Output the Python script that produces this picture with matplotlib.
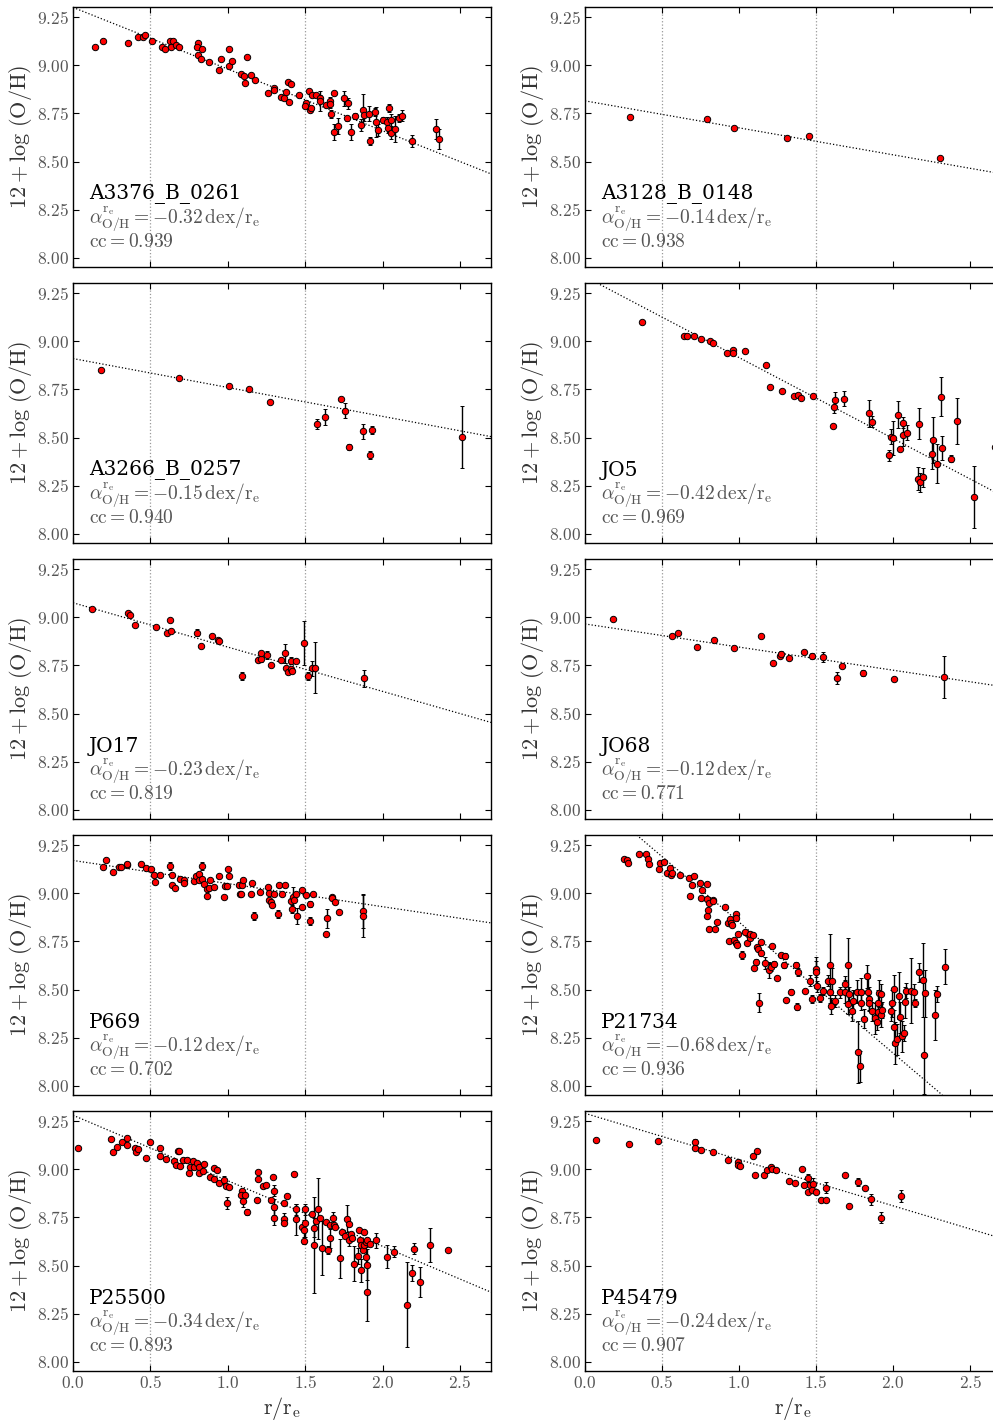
import matplotlib
matplotlib.use('Agg')
import matplotlib.pyplot as plt
from matplotlib.ticker import FormatStrFormatter, MultipleLocator

plt.rcParams['mathtext.fontset'] = 'cm'
plt.rcParams['font.family'] = ['DejaVu Serif']

# ============================ data ============================
names = ['A3376_B_0261', 'A3128_B_0148', 'A3266_B_0257', 'JO5', 'JO17',
         'JO68', 'P669', 'P21734', 'P25500', 'P45479']
slopes = [-0.32, -0.14, -0.15, -0.42, -0.23, -0.12, -0.12, -0.68, -0.34, -0.24]
zeros = [9.30, 8.815, 8.91, 9.335, 9.075, 8.965, 9.17, 9.53, 9.28, 9.29]
ccs = ['0.939', '0.938', '0.940', '0.969', '0.819', '0.771', '0.702', '0.936', '0.893', '0.907']

r_a3376 = [0.145, 0.194, 0.358, 0.419, 0.451, 0.466, 0.513, 0.572, 0.593, 0.624, 0.643, 0.636,
           0.665, 0.686, 0.807, 0.798, 0.831, 0.805, 0.828, 0.880, 0.958, 0.945, 1.010, 1.005,
           1.027, 1.122, 1.085, 1.107, 1.109, 1.148, 1.176, 1.258, 1.297, 1.299, 1.342, 1.362,
           1.374, 1.387, 1.407, 1.398, 1.461, 1.504, 1.497, 1.527, 1.532, 1.536, 1.545, 1.571,
           1.594, 1.597, 1.633, 1.659, 1.663, 1.666, 1.685, 1.685, 1.711, 1.750, 1.769, 1.778,
           1.795, 1.819, 1.860, 1.872, 1.879, 1.909, 1.920, 1.948, 1.957, 1.970, 2.002, 2.030,
           2.034, 2.039, 2.052, 2.056, 2.080, 2.108, 2.123, 2.190, 2.345, 2.362]
oh_a3376 = [9.093, 9.124, 9.115, 9.144, 9.144, 9.155, 9.124, 9.094, 9.084, 9.124, 9.124, 9.094,
            9.103, 9.094, 9.115, 9.094, 9.084, 9.053, 9.034, 9.015, 9.034, 8.973, 9.084, 8.996,
            9.023, 9.044, 8.954, 8.944, 8.907, 8.949, 8.925, 8.854, 8.883, 8.873, 8.833, 8.828,
            8.862, 8.914, 8.904, 8.809, 8.843, 8.804, 8.786, 8.864, 8.767, 8.776, 8.843, 8.843,
            8.828, 8.814, 8.793, 8.814, 8.797, 8.748, 8.857, 8.653, 8.684, 8.828, 8.724, 8.802,
            8.653, 8.738, 8.689, 8.769, 8.740, 8.748, 8.606, 8.757, 8.705, 8.663, 8.714, 8.703,
            8.676, 8.779, 8.648, 8.717, 8.669, 8.727, 8.738, 8.606, 8.669, 8.617]
e_a3376 = [0.005] * 41 + [0.01, 0.01, 0.01, 0.01, 0.01, 0.01, 0.01, 0.02, 0.05, 0.01, 0.02,
                         0.02, 0.02, 0.01, 0.04, 0.04, 0.04, 0.015, 0.03, 0.04, 0.015, 0.03,
                         0.08, 0.03, 0.04, 0.02, 0.02, 0.08, 0.03, 0.015, 0.03, 0.03, 0.02,
                         0.03, 0.03, 0.07, 0.02, 0.03, 0.03, 0.05, 0.05]

r_a3128 = [0.292, 0.789, 0.968, 1.314, 1.456, 2.301]
oh_a3128 = [8.731, 8.722, 8.674, 8.624, 8.631, 8.520]
e_a3128 = [0.005, 0.005, 0.005, 0.005, 0.005, 0.005]

r_a3266 = [0.183, 0.682, 1.005, 1.137, 1.273, 1.575, 1.629, 1.728, 1.759, 1.782, 1.873,
           1.918, 1.929, 2.513]
oh_a3266 = [8.849, 8.810, 8.770, 8.751, 8.687, 8.569, 8.607, 8.701, 8.640, 8.450, 8.533,
            8.408, 8.540, 8.503]
e_a3266 = [0.005, 0.005, 0.005, 0.005, 0.005, 0.025, 0.04, 0.005, 0.04, 0.015, 0.04,
           0.02, 0.02, 0.16]

r_jo5 = [0.369, 0.644, 0.663, 0.709, 0.754, 0.812, 0.828, 0.923, 0.959, 0.959, 1.037, 1.178,
         1.201, 1.279, 1.357, 1.385, 1.404, 1.478, 1.612, 1.618, 1.623, 1.683, 1.843, 1.860,
         1.973, 1.986, 1.999, 2.031, 2.046, 2.064, 2.066, 2.089, 2.163, 2.171, 2.176, 2.193,
         2.249, 2.258, 2.286, 2.308, 2.316, 2.373, 2.416, 2.524, 2.66]
oh_jo5 = [9.100, 9.026, 9.029, 9.029, 9.010, 9.000, 8.990, 8.939, 8.952, 8.938, 8.950, 8.879,
          8.763, 8.744, 8.715, 8.720, 8.706, 8.716, 8.559, 8.659, 8.697, 8.702, 8.625, 8.583,
          8.408, 8.505, 8.498, 8.618, 8.443, 8.578, 8.514, 8.526, 8.286, 8.571, 8.267, 8.293,
          8.417, 8.488, 8.365, 8.712, 8.446, 8.391, 8.587, 8.190, 8.451]
e_jo5 = [0.005] * 18 + [0.01, 0.03, 0.04, 0.04, 0.07, 0.03, 0.03, 0.04, 0.09, 0.07, 0.005,
                        0.03, 0.06, 0.04, 0.06, 0.08, 0.05, 0.05, 0.08, 0.12, 0.1, 0.1,
                        0.06, 0.02, 0.12, 0.16, 0.02]

r_jo17 = [0.125, 0.356, 0.371, 0.403, 0.539, 0.608, 0.624, 0.636, 0.800, 0.824, 0.900, 0.936,
          0.941, 1.092, 1.195, 1.213, 1.217, 1.256, 1.279, 1.342, 1.372, 1.379, 1.389, 1.405,
          1.407, 1.417, 1.439, 1.493, 1.517, 1.545, 1.562, 1.877]
oh_jo17 = [9.040, 9.021, 9.010, 8.958, 8.948, 8.920, 8.986, 8.929, 8.920, 8.849, 8.900, 8.881,
           8.879, 8.694, 8.777, 8.784, 8.815, 8.804, 8.753, 8.779, 8.813, 8.739, 8.717, 8.732,
           8.775, 8.719, 8.772, 8.865, 8.694, 8.734, 8.739, 8.682]
e_jo17 = [0.005] * 8 + [0.02, 0.005, 0.005, 0.01, 0.005, 0.02, 0.01, 0.015, 0.005, 0.02,
                        0.005, 0.005, 0.05, 0.01, 0.005, 0.01, 0.02, 0.01, 0.005, 0.115,
                        0.02, 0.04, 0.13, 0.045]

r_jo68 = [0.182, 0.566, 0.605, 0.730, 0.836, 0.966, 1.143, 1.221, 1.264, 1.273, 1.325, 1.420,
          1.474, 1.547, 1.636, 1.666, 1.804, 2.005, 2.329]
oh_jo68 = [8.990, 8.900, 8.920, 8.848, 8.882, 8.839, 8.900, 8.760, 8.799, 8.810, 8.787, 8.818,
           8.799, 8.792, 8.685, 8.746, 8.709, 8.678, 8.689]
e_jo68 = [0.005, 0.005, 0.005, 0.005, 0.005, 0.005, 0.005, 0.005, 0.01, 0.015, 0.005, 0.005,
          0.015, 0.025, 0.03, 0.005, 0.015, 0.01, 0.11]

r_p669 = [0.192, 0.211, 0.261, 0.298, 0.313, 0.352, 0.352, 0.442, 0.473, 0.501, 0.522, 0.529,
          0.559, 0.624, 0.641, 0.641, 0.660, 0.690, 0.714, 0.714, 0.783, 0.794, 0.816, 0.811,
          0.833, 0.831, 0.846, 0.868, 0.868, 0.880, 0.885, 0.910, 0.943, 0.973, 0.984, 0.992,
          0.999, 1.007, 1.072, 1.081, 1.087, 1.094, 1.100, 1.157, 1.152, 1.171, 1.210, 1.260,
          1.264, 1.264, 1.279, 1.285, 1.299, 1.327, 1.331, 1.348, 1.372, 1.407, 1.417, 1.422,
          1.428, 1.439, 1.450, 1.476, 1.482, 1.508, 1.530, 1.532, 1.549, 1.633, 1.640, 1.670,
          1.672, 1.691, 1.720, 1.871, 1.871]
oh_p669 = [9.135, 9.170, 9.111, 9.135, 9.138, 9.144, 9.152, 9.154, 9.131, 9.125, 9.092, 9.059,
           9.095, 9.142, 9.097, 9.045, 9.028, 9.074, 9.071, 9.054, 9.062, 9.088, 9.100, 9.071,
           9.140, 9.076, 9.048, 9.022, 8.984, 9.028, 9.066, 9.031, 9.088, 8.978, 9.036, 9.035,
           9.125, 9.090, 9.045, 8.997, 8.997, 9.040, 9.067, 9.052, 8.998, 8.881, 9.005, 9.033,
           9.002, 8.967, 8.952, 8.941, 8.995, 8.893, 9.040, 8.998, 9.040, 8.957, 8.919, 8.981,
           8.965, 8.997, 8.881, 8.929, 9.016, 8.990, 8.945, 8.856, 8.998, 8.787, 8.870, 8.981,
           8.976, 8.953, 8.905, 8.907, 8.882]
e_p669 = [0.008] * 76 + [0.11]
e_p669[13] = 0.02
e_p669[24] = 0.02
e_p669[38] = 0.015
e_p669[45] = 0.02
e_p669[53] = 0.02
e_p669[58] = 0.02
e_p669[59] = 0.05
e_p669[62] = 0.04
e_p669[66] = 0.015
e_p669[67] = 0.02
e_p669[70] = 0.05
e_p669[75] = 0.09

r_p21734 = [0.253, 0.270, 0.279, 0.348, 0.393, 0.406, 0.415, 0.480, 0.490, 0.514, 0.534, 0.553,
            0.560, 0.564, 0.618, 0.676, 0.707, 0.683, 0.694, 0.745, 0.750, 0.758, 0.791, 0.793,
            0.806, 0.830, 0.828, 0.793, 0.799, 0.802, 0.843, 0.858, 0.908, 0.927, 0.940, 0.949,
            0.955, 0.979, 0.983, 0.936, 0.968, 0.983, 0.988, 0.996, 1.022, 1.052, 1.056, 1.041,
            1.074, 1.070, 1.089, 1.096, 1.111, 1.117, 1.121, 1.128, 1.143, 1.143, 1.166, 1.195,
            1.210, 1.225, 1.247, 1.212, 1.271, 1.299, 1.292, 1.303, 1.340, 1.370, 1.381, 1.376,
            1.430, 1.460, 1.474, 1.497, 1.502, 1.504, 1.528, 1.543, 1.577, 1.588, 1.588, 1.597,
            1.603, 1.625, 1.654, 1.686, 1.689, 1.705, 1.705, 1.714, 1.735, 1.737, 1.772, 1.783,
            1.767, 1.793, 1.791, 1.813, 1.830, 1.839, 1.843, 1.845, 1.863, 1.880, 1.895, 1.899,
            1.901, 1.908, 1.921, 1.921, 1.929, 1.988, 1.994, 2.003, 2.008, 2.014, 2.025, 2.040,
            2.046, 2.059, 2.068, 2.074, 2.085, 2.117, 2.134, 2.145, 2.171, 2.193, 2.200, 2.204,
            2.271, 2.282, 2.336]
oh_p21734 = [9.180, 9.170, 9.159, 9.201, 9.201, 9.180, 9.149, 9.128, 9.159, 9.161, 9.107, 9.131,
             9.092, 9.107, 9.097, 9.080, 9.088, 8.988, 9.042, 9.054, 8.976, 9.019, 9.048, 8.969,
             8.948, 8.965, 8.960, 8.881, 8.915, 8.813, 8.813, 8.853, 8.929, 8.848, 8.864, 8.843,
             8.837, 8.891, 8.873, 8.750, 8.757, 8.744, 8.729, 8.786, 8.678, 8.742, 8.786, 8.797,
             8.767, 8.789, 8.782, 8.613, 8.644, 8.722, 8.708, 8.432, 8.748, 8.691, 8.639, 8.601,
             8.618, 8.631, 8.560, 8.726, 8.681, 8.673, 8.628, 8.447, 8.490, 8.630, 8.593, 8.412,
             8.492, 8.546, 8.450, 8.606, 8.590, 8.517, 8.458, 8.493, 8.547, 8.630, 8.490, 8.414,
             8.542, 8.440, 8.485, 8.530, 8.488, 8.630, 8.425, 8.475, 8.389, 8.440, 8.176, 8.101,
             8.488, 8.490, 8.432, 8.349, 8.569, 8.490, 8.453, 8.429, 8.387, 8.352, 8.332, 8.382,
             8.429, 8.481, 8.478, 8.366, 8.394, 8.389, 8.429, 8.505, 8.304, 8.223, 8.241, 8.469,
             8.356, 8.258, 8.275, 8.434, 8.495, 8.495, 8.488, 8.429, 8.590, 8.550, 8.159, 8.480,
             8.370, 8.478, 8.618]
e_p21734 = [0.005] * 44 + [0.02, 0.005, 0.005, 0.005, 0.005, 0.005, 0.005, 0.01, 0.015,
                           0.01, 0.01, 0.05, 0.01, 0.015, 0.03, 0.04, 0.02, 0.015, 0.01,
                           0.01, 0.01, 0.015, 0.015, 0.01, 0.015, 0.015, 0.02, 0.02, 0.01,
                           0.03, 0.02, 0.04, 0.08, 0.03, 0.02, 0.02, 0.03, 0.16, 0.06, 0.04,
                           0.07, 0.03, 0.03, 0.04, 0.06, 0.14, 0.05, 0.04, 0.05, 0.06, 0.16,
                           0.08, 0.06, 0.07, 0.04, 0.05, 0.06, 0.07, 0.06, 0.04, 0.05, 0.08,
                           0.04, 0.04, 0.07, 0.07, 0.05, 0.06, 0.04, 0.05, 0.07, 0.07, 0.09,
                           0.11, 0.08, 0.12, 0.08, 0.08, 0.04, 0.08, 0.04, 0.17, 0.04, 0.02,
                           0.05, 0.19, 0.2, 0.12, 0.13, 0.04, 0.09]

r_p25500 = [0.032, 0.248, 0.259, 0.287, 0.317, 0.350, 0.347, 0.399, 0.410, 0.423, 0.472, 0.496,
            0.561, 0.561, 0.600, 0.652, 0.665, 0.675, 0.686, 0.693, 0.712, 0.736, 0.751, 0.757,
            0.772, 0.783, 0.798, 0.813, 0.813, 0.837, 0.848, 0.882, 0.913, 0.913, 0.930, 0.945,
            0.973, 0.988, 0.995, 1.007, 1.090, 1.087, 1.096, 1.109, 1.124, 1.193, 1.195, 1.191,
            1.228, 1.249, 1.279, 1.292, 1.301, 1.301, 1.301, 1.361, 1.364, 1.361, 1.383, 1.426,
            1.441, 1.443, 1.478, 1.491, 1.493, 1.497, 1.500, 1.543, 1.556, 1.556, 1.567, 1.584,
            1.594, 1.610, 1.631, 1.648, 1.657, 1.657, 1.681, 1.685, 1.691, 1.722, 1.739, 1.754,
            1.773, 1.782, 1.786, 1.797, 1.801, 1.814, 1.840, 1.847, 1.851, 1.862, 1.858, 1.877,
            1.875, 1.879, 1.890, 1.894, 1.899, 1.901, 1.896, 1.959, 1.920, 2.026, 2.076, 2.160,
            2.192, 2.203, 2.242, 2.306, 2.425]
oh_p25500 = [9.111, 9.156, 9.090, 9.114, 9.140, 9.161, 9.125, 9.111, 9.090, 9.106, 9.059, 9.140,
             9.109, 9.066, 9.054, 9.043, 9.022, 9.093, 9.095, 9.017, 9.047, 9.047, 8.979, 9.012,
             9.045, 9.012, 9.033, 9.014, 8.981, 8.990, 9.028, 8.957, 9.007, 8.950, 8.997, 8.929,
             8.943, 8.913, 8.825, 8.908, 8.889, 8.867, 8.836, 8.867, 8.779, 8.986, 8.950, 8.839,
             8.913, 8.917, 8.839, 8.960, 8.889, 8.804, 8.749, 8.825, 8.744, 8.720, 8.860, 8.976,
             8.791, 8.740, 8.702, 8.630, 8.684, 8.720, 8.791, 8.765, 8.608, 8.696, 8.730, 8.796,
             8.749, 8.590, 8.728, 8.580, 8.642, 8.709, 8.747, 8.709, 8.699, 8.538, 8.675, 8.651,
             8.742, 8.631, 8.718, 8.664, 8.644, 8.509, 8.550, 8.687, 8.631, 8.476, 8.607, 8.673,
             8.580, 8.606, 8.623, 8.545, 8.505, 8.363, 8.633, 8.631, 8.614, 8.547, 8.573, 8.298,
             8.462, 8.588, 8.415, 8.606, 8.583]
e_p25500 = [0.008] * 36 + [0.02, 0.008, 0.03, 0.008, 0.008, 0.008, 0.03, 0.008, 0.015, 0.008,
                           0.008, 0.008, 0.008, 0.008, 0.008, 0.008, 0.03, 0.04, 0.04, 0.008,
                           0.03, 0.008, 0.008, 0.008, 0.03, 0.08, 0.008, 0.02, 0.05, 0.07,
                           0.03, 0.008, 0.25, 0.05, 0.008, 0.16, 0.008, 0.14, 0.008, 0.02,
                           0.05, 0.008, 0.03, 0.008, 0.008, 0.1, 0.008, 0.008, 0.07, 0.03,
                           0.008, 0.008, 0.008, 0.09, 0.04, 0.008, 0.008, 0.06, 0.008, 0.008,
                           0.008, 0.008, 0.008, 0.05, 0.08, 0.15, 0.008, 0.04, 0.008, 0.06,
                           0.03, 0.22, 0.04, 0.03, 0.08, 0.09, 0.008]

r_p45479 = [0.073, 0.283, 0.471, 0.711, 0.711, 0.754, 0.832, 0.927, 0.996, 0.990, 1.005, 1.089,
            1.115, 1.102, 1.162, 1.184, 1.210, 1.212, 1.242, 1.325, 1.363, 1.411, 1.420, 1.446,
            1.450, 1.458, 1.480, 1.474, 1.502, 1.532, 1.562, 1.562, 1.690, 1.716, 1.772, 1.817,
            1.854, 1.921, 2.051]
oh_p45479 = [9.151, 9.130, 9.145, 9.140, 9.111, 9.100, 9.090, 9.050, 9.038, 9.021, 9.019, 9.069,
             9.093, 8.971, 8.971, 8.998, 9.009, 9.000, 8.998, 8.939, 8.929, 9.000, 8.918, 8.956,
             8.883, 8.920, 8.923, 8.892, 8.882, 8.840, 8.905, 8.840, 8.972, 8.811, 8.933, 8.901,
             8.843, 8.749, 8.861]
e_p45479 = [0.005, 0.005, 0.005, 0.015, 0.005, 0.005, 0.005, 0.005, 0.01, 0.005, 0.005, 0.005,
            0.005, 0.005, 0.005, 0.005, 0.01, 0.005, 0.005, 0.005, 0.005, 0.005, 0.01, 0.02,
            0.005, 0.005, 0.03, 0.005, 0.005, 0.005, 0.03, 0.005, 0.005, 0.005, 0.02, 0.01,
            0.03, 0.03, 0.03]

radii = [r_a3376, r_a3128, r_a3266, r_jo5, r_jo17, r_jo68, r_p669, r_p21734, r_p25500, r_p45479]
abund = [oh_a3376, oh_a3128, oh_a3266, oh_jo5, oh_jo17, oh_jo68, oh_p669, oh_p21734,
         oh_p25500, oh_p45479]
errs = [e_a3376, e_a3128, e_a3266, e_jo5, e_jo17, e_jo68, e_p669, e_p21734, e_p25500, e_p45479]

# ============================ figure ============================
W, H = 993, 1421
fig = plt.figure(figsize=(W / 100, H / 100), dpi=100)

col_left = [73, 585]
col_width = [418, 416]
gray = '#555555'

for k in range(10):
    row, col = k // 2, k % 2
    top = 7 + 276 * row
    ax = fig.add_axes([col_left[col] / W, 1 - (top + 260) / H, col_width[col] / W, 260 / H])
    ax.set_xlim(0, 2.7)
    ax.set_ylim(7.953, 9.302)

    ax.axvline(0.5, color='#999999', ls=':', lw=0.9, zorder=1)
    ax.axvline(1.5, color='#999999', ls=':', lw=0.9, zorder=1)
    ax.axline((0, zeros[k]), slope=slopes[k], color='black', ls=':', lw=0.9, zorder=2)

    ax.errorbar(radii[k], abund[k], yerr=errs[k], fmt='o', ms=4.6, mfc='red', mec='black',
                mew=0.7, ecolor='black', elinewidth=1.0, capsize=1.6, capthick=0.9, zorder=3)

    ax.xaxis.set_major_locator(MultipleLocator(0.5))
    ax.yaxis.set_major_locator(MultipleLocator(0.25))
    ax.yaxis.set_major_formatter(FormatStrFormatter(r'$%.2f$'))
    ax.xaxis.set_major_formatter(FormatStrFormatter(r'$%.1f$'))
    ax.tick_params(direction='in', top=True, right=True, length=4, width=0.8,
                   labelsize=12.5, labelcolor=gray, pad=3)
    for sp in ax.spines.values():
        sp.set_linewidth(1.0)
    if row < 4:
        ax.tick_params(labelbottom=False)
    else:
        ax.set_xlabel(r'$\mathrm{r/r_e}$', fontsize=16, color='#333333', labelpad=2)
    ax.set_ylabel(r'$12 + \log\,(\mathrm{O/H})$', fontsize=16, color='#333333', labelpad=2)

    # galaxy name, gradient slope and correlation coefficient
    ax.text(0.038, 0.28, names[k], transform=ax.transAxes, fontsize=14.5, color='black',
            va='center', ha='left', family='DejaVu Serif')
    ax.text(0.038, 0.185, r'$\alpha_{\mathrm{O/H}}^{\mathrm{r_e}} = %.2f\,\mathrm{dex/r_e}$' % slopes[k],
            transform=ax.transAxes, fontsize=14, color=gray, va='center', ha='left')
    ax.text(0.038, 0.097, r'$\mathrm{cc} = %s$' % ccs[k], transform=ax.transAxes,
            fontsize=14, color=gray, va='center', ha='left')

fig.savefig('out.png', dpi=100)
